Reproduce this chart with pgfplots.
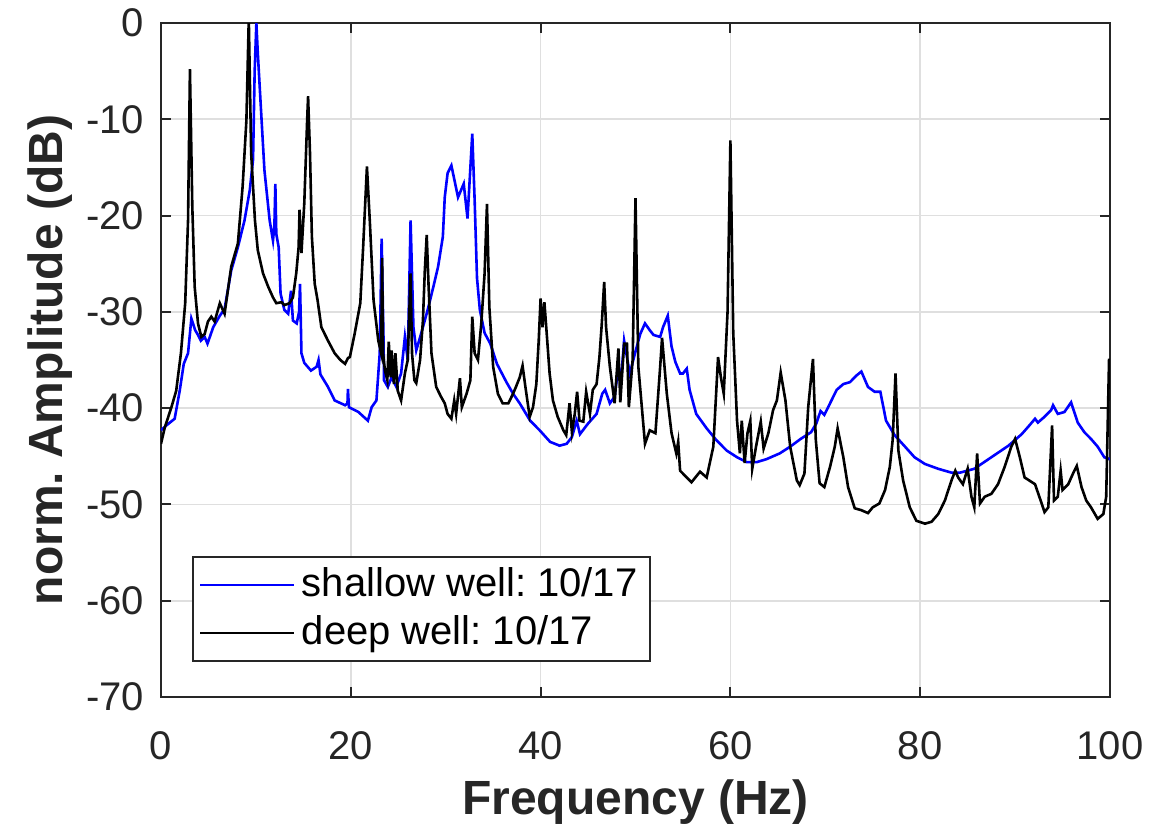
\documentclass[border=0pt]{standalone}
\usepackage{pgfplots}
\pgfplotsset{compat=1.18}
\usepackage{fontspec}
\setmainfont{Liberation Sans}
\frenchspacing
\definecolor{gridgray}{RGB}{223,223,223}
\definecolor{axgray}{RGB}{38,38,38}
\definecolor{mblue}{RGB}{0,0,255}
\begin{document}
\begin{tikzpicture}
\begin{axis}[
  width=237.25pt, height=168.5pt, scale only axis,
  xmin=0, xmax=100, ymin=-70, ymax=0,
  xtick={0,20,40,60,80,100}, ytick={-70,-60,-50,-40,-30,-20,-10,0},
  xticklabels={0,20,40,60,80,100},
  yticklabels={-70,-60,-50,-40,-30,-20,-10,0},
  grid=major, major grid style={color=gridgray, line width=0.4pt},
  axis line style={color=axgray, line width=0.5pt},
  tick style={color=axgray, line width=0.5pt}, major tick length=2.5pt,
  tick align=inside,
  tick label style={font=\fontsize{10}{12}\selectfont, color=axgray},
  xticklabel style={yshift=-5.2pt},
  yticklabel style={xshift=-0.7pt},
  xlabel={Frequency (Hz)}, ylabel={norm. Amplitude (dB)},
  label style={font=\bfseries\fontsize{12}{14}\selectfont, color=axgray},
  xlabel style={at={(axis description cs:0.5,-0.156)}, anchor=center},
  ylabel style={at={(axis description cs:-0.117,0.5)}, anchor=center},
  legend style={at={(axis description cs:0.0327,0.052)}, anchor=south west,
    font=\fontsize{10}{12}\selectfont, draw=axgray, line width=0.5pt,
    inner xsep=1.5pt, inner ysep=1pt, row sep=0pt,
    nodes={inner sep=1.6pt, text=black}},
  legend cell align=left,
  legend image code/.code={\draw[#1, line width=0.6pt] (0pt,0pt) -- (23.5pt,0pt);},
  clip=true,
]
\addplot[mblue, line width=0.65pt] coordinates {
(0,-42.3) (0.56,-41.8) (1.44,-41.1) (1.97,-38.2) (2.4,-35.4) (2.85,-34.3)
(3.2,-30.7) (3.6,-31.9) (3.9,-32.4) (4.2,-33.0) (4.6,-32.6) (4.9,-33.3)
(5.5,-31.6) (6.2,-30.4) (6.7,-29.7) (7.4,-25.7) (8.1,-23.3) (8.8,-20.5)
(9.35,-17.4) (9.7,-14.2) (9.87,-5) (10.05,0) (10.2,-3.1) (10.6,-10.1)
(10.9,-15.3) (11.45,-20.5) (11.8,-22.6) (11.95,-21) (12.05,-16.7) (12.15,-21.9)
(12.4,-23.3) (12.6,-28.1) (13.0,-29.8) (13.4,-30.2) (13.7,-27.8) (13.9,-30.9)
(14.3,-31.2) (14.55,-30) (14.65,-27.1) (14.8,-34.3) (15.1,-35.3) (15.8,-36.1)
(16.4,-35.7) (16.6,-35.0) (16.8,-36.5) (17.6,-37.8) (18.3,-39.2) (19.4,-39.7)
(19.65,-39.5) (19.7,-38.0) (19.8,-39.9) (20.8,-40.4) (21.8,-41.3) (22.2,-39.9)
(22.7,-39.2) (23.05,-34.3) (23.25,-22.4) (23.45,-33) (23.5,-37.1) (23.9,-37.8)
(24.3,-36.8) (24.8,-37.8) (25.3,-36.4) (25.7,-32.6) (26.0,-35.0) (26.3,-20.5)
(26.6,-31.6) (26.9,-34.0) (27.4,-32.3) (28.1,-29.8) (28.7,-27.4) (29.2,-25.3)
(29.7,-22.2) (29.9,-18.1) (30.2,-15.6) (30.6,-14.8) (31.3,-18.1) (31.9,-16.7)
(32.3,-20.3) (32.8,-11.5) (33.05,-18.4) (33.3,-26.5) (33.6,-29.8) (34.1,-32.2)
(34.7,-33.3) (35.4,-35.4) (36.4,-37.3) (37.1,-38.5) (37.8,-39.5) (38.9,-41.3)
(39.9,-42.3) (41.0,-43.5) (42.0,-43.9) (42.75,-43.7) (43.3,-43.0) (43.8,-41.3)
(44.15,-42.7) (45.0,-41.6) (45.9,-40.6) (46.5,-38.5) (46.8,-38.1) (47.3,-39.5)
(47.8,-38.8) (48.2,-35.7) (48.5,-36.8) (48.8,-33.0) (49.4,-36.4) (49.95,-34.3)
(50.5,-32.3) (51.0,-31.2) (51.5,-31.9) (51.9,-32.4) (52.6,-32.6) (52.9,-31.6)
(53.4,-30.4) (53.8,-33.6) (54.2,-35.2) (54.7,-36.4) (55.0,-36.4) (55.4,-35.9)
(55.7,-38.1) (56.4,-40.6) (57.5,-42.1) (58.5,-43.3) (59.6,-44.4) (60.7,-45.1)
(61.7,-45.6) (62.8,-45.6) (63.8,-45.3) (65.2,-44.7) (66.3,-44.0) (67.4,-43.2)
(68.5,-42.5) (69.05,-41.6) (69.5,-40.3) (69.9,-40.7) (70.5,-39.5) (71.2,-38.1)
(71.9,-37.5) (72.6,-37.3) (73.3,-36.6) (73.8,-36.2) (74.5,-37.8) (75.2,-38.3)
(75.8,-38.3) (76.4,-41.3) (77.3,-42.8) (78.4,-44.0) (79.4,-45.1) (80.5,-45.8)
(81.9,-46.3) (83.3,-46.7) (84.2,-46.7) (85.7,-46.3) (87.5,-45.1) (89.3,-43.9)
(90.7,-42.7) (91.5,-41.8) (92.1,-41.1) (92.4,-41.5) (93.1,-40.9) (93.8,-40.2)
(94.0,-39.7) (94.5,-40.6) (95.2,-40.4) (95.9,-39.4) (96.6,-41.5) (97.3,-42.5)
(98.0,-43.2) (98.7,-44.0) (99.4,-45.1) (100,-45.3)
};
\addlegendentry{shallow well: 10/17}
\addplot[black, line width=0.65pt] coordinates {
(0,-43.7) (0.4,-42.0) (1.1,-39.9) (1.6,-38.2) (2.1,-34.3) (2.55,-29.1)
(2.85,-20.5) (3.05,-4.8) (3.3,-19.1) (3.55,-27.4) (3.9,-31.2) (4.25,-32.6)
(4.6,-32.3) (4.95,-31.0) (5.3,-30.5) (5.65,-31.0) (6.2,-29.1) (6.7,-30.2)
(7.4,-25.3) (8.1,-22.9) (8.6,-17.0) (9.0,-10.1) (9.25,0.5) (9.5,-13.5)
(9.9,-20.5) (10.2,-23.6) (10.75,-26.0) (11.3,-27.4) (11.8,-28.5) (12.15,-29.1)
(12.7,-29.0) (13.0,-29.3) (13.55,-29.1) (13.9,-28.5) (14.25,-26.0) (14.5,-23.3)
(14.6,-19.4) (14.8,-23.9) (15.1,-18.7) (15.4,-10.1) (15.5,-7.6) (15.7,-13.5)
(15.9,-22.2) (16.2,-27.1) (16.5,-28.8) (16.9,-31.6) (17.6,-33.0) (18.3,-34.3)
(18.9,-35.0) (19.4,-35.4) (19.7,-34.8) (19.9,-34.7) (20.4,-32.3) (21.0,-29.1)
(21.3,-23.3) (21.7,-14.9) (22.0,-20.5) (22.4,-28.8) (22.9,-33.0) (23.2,-34.3)
(23.3,-24.4) (23.4,-34.3) (23.6,-36.1) (23.85,-37.1) (24.0,-33.1) (24.2,-36.8)
(24.3,-34.0) (24.55,-37.5) (24.7,-34.3) (24.95,-38.2) (25.3,-39.2) (25.7,-36.4)
(26.0,-35.0) (26.3,-26.0) (26.45,-34.3) (26.7,-37.1) (26.9,-37.4) (27.3,-35.0)
(27.6,-30.9) (27.8,-25.7) (28.0,-22.0) (28.2,-27.4) (28.5,-34.3) (29.0,-37.8)
(29.5,-38.8) (29.9,-39.5) (30.2,-40.6) (30.6,-41.1) (30.9,-39.2) (31.1,-40.6)
(31.5,-36.9) (31.7,-39.9) (32.2,-38.5) (32.6,-37.1) (32.8,-30.5) (33.05,-34.3)
(33.4,-35.0) (33.75,-31.2) (34.1,-26.0) (34.35,-18.8) (34.6,-29.5) (35.0,-35.7)
(35.5,-38.5) (36.0,-39.5) (36.6,-39.5) (37.1,-38.5) (37.4,-37.8) (37.8,-36.8)
(38.1,-35.6) (38.4,-37.8) (38.85,-40.9) (39.2,-39.9) (39.55,-37.5) (39.8,-33.0)
(40.0,-28.6) (40.2,-31.6) (40.4,-29.0) (40.7,-33.0) (40.95,-36.4) (41.3,-39.2)
(41.8,-40.9) (42.4,-42.3) (42.7,-42.8) (43.05,-39.5) (43.3,-42.5) (43.6,-40.6)
(43.85,-38.3) (44.1,-41.3) (44.5,-41.4) (44.8,-38.3) (45.2,-40.6) (45.5,-38.1)
(45.9,-37.5) (46.2,-34.7) (46.45,-31.2) (46.7,-26.9) (46.9,-31.6) (47.3,-35.7)
(47.8,-39.5) (48.2,-33.8) (48.4,-39.4) (48.8,-33.3) (49.1,-33.3) (49.3,-39.9)
(49.7,-35.0) (50.0,-18.2) (50.3,-35.7) (51.0,-43.7) (51.5,-42.3) (52.1,-42.6)
(52.6,-35.7) (52.8,-32.7) (53.3,-38.5) (53.8,-42.6) (54.3,-44.7) (54.5,-43.5)
(54.7,-46.5) (55.9,-47.7) (56.8,-46.6) (57.5,-47.2) (58.2,-44.0) (58.7,-34.7)
(59.0,-36.8) (59.3,-38.5) (59.7,-30.0) (60.0,-12.2) (60.3,-32.2) (60.7,-41.3)
(61.0,-44.7) (61.2,-41.3) (61.5,-45.7) (61.8,-42.6) (62.1,-41.3) (62.3,-46.3)
(62.7,-44.0) (63.2,-41.4) (63.5,-44.2) (64.0,-42.6) (64.5,-40.2) (64.9,-39.2)
(65.3,-36.3) (65.8,-39.2) (66.3,-44.0) (67.0,-47.5) (67.3,-48.0) (67.8,-46.8)
(68.2,-39.9) (68.7,-34.9) (69.0,-43.3) (69.4,-47.8) (69.9,-48.2) (70.5,-46.1)
(71.0,-44.0) (71.3,-42.1) (71.9,-45.1) (72.4,-48.2) (73.1,-50.4) (73.8,-50.6)
(74.5,-50.9) (75.0,-50.3) (75.7,-49.9) (76.3,-48.5) (76.8,-46.1) (77.1,-43.3)
(77.4,-36.4) (77.7,-44.4) (78.2,-47.5) (78.9,-50.3) (79.6,-51.7) (80.5,-52.0)
(81.2,-51.8) (81.9,-51.0) (82.6,-49.6) (83.3,-47.5) (83.7,-46.5) (84.0,-47.2)
(84.5,-47.9) (85.0,-46.3) (85.4,-49.2) (85.7,-50.3) (86.0,-44.7) (86.3,-49.9)
(86.8,-49.2) (87.5,-48.9) (88.2,-47.9) (88.9,-46.1) (89.6,-44.0) (90.0,-43.2)
(90.5,-45.1) (91.0,-47.2) (92.1,-47.9) (92.8,-49.9) (93.1,-50.8) (93.5,-50.3)
(93.9,-41.8) (94.1,-49.6) (94.5,-49.2) (94.8,-46.5) (95.0,-48.5) (95.6,-47.9)
(96.1,-46.8) (96.5,-46.0) (97.0,-48.2) (97.5,-49.6) (98.0,-50.3) (98.7,-51.5)
(99.3,-51.0) (99.6,-49.2) (99.9,-35.0) (100,-35.0)
};
\addlegendentry{deep well: 10/17}
\end{axis}
\pgfresetboundingbox
\useasboundingbox (-40.25pt,-34pt) rectangle (252.5pt,174.25pt);
\end{tikzpicture}
\end{document}
